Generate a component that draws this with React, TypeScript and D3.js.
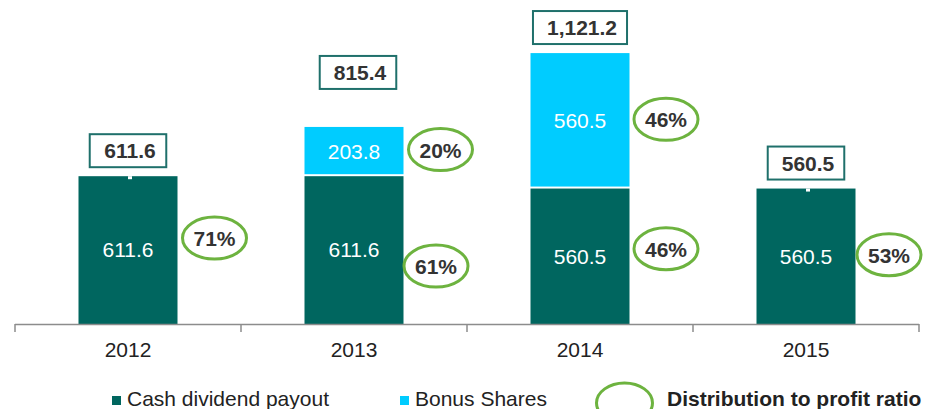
import React from "react";
import * as d3 from "d3";

const years = ["2012", "2013", "2014", "2015"];
const cashDividend = [611.6, 611.6, 560.5, 560.5];
const bonusShares = [0, 203.8, 560.5, 0];
const totals = [611.6, 815.4, 1121.2, 560.5];
const cashRatio = ["71%", "61%", "46%", "53%"];
const bonusRatio = ["", "20%", "46%", ""];

// layout tweaks (pixel offsets for manually placed annotations)
const cashRatioOffset = [[37, -12], [32.5, 16], [36.5, -7.5], [33.5, -1.5]];
const bonusRatioOffset = [[0, 0], [37, -2], [36.5, -1.5], [0, 0]];
const totalBoxGap = [9, 38, 9, 9];
const totalBoxDx = [0, 4, 0, 0];

const W = 928;
const H = 409;
const CASH = "#00665f";
const BONUS = "#00ccff";
const GREEN = "#6db33f";
const TEXT = "#333333";
const FONT = "'Liberation Sans', Arial, Helvetica, sans-serif";

function textWidth(s: string, bold: boolean, size: number) {
  const w: Record<string, number> = { ",": 0.278, ".": 0.278, "%": 0.889 };
  let t = 0;
  for (const c of s) t += w[c] ?? 0.556;
  return t * size;
}

export default function App() {
  const x = d3.scaleBand<string>().domain(years).range([15, 919]).padding(0);
  const y = d3.scaleLinear().domain([0, 1200]).range([324, 34]);
  const barW = 99;
  const ellipseRx = 32;
  const ellipseRy = 21;

  return (
    <div style={{ position: "absolute", left: 0, top: 0 }}>
      <svg width={W} height={H} style={{ display: "block", fontFamily: FONT }}>
        <rect width={W} height={H} fill="#fff" />
        {years.map((yr, i) => {
          const cx = (x(yr) as number) + x.bandwidth() / 2;
          const x0 = cx - barW / 2;
          const cashTop = y(cashDividend[i]);
          const bonusTop = y(cashDividend[i] + bonusShares[i]);
          const total = totals[i];
          const totalTop = y(total);
          const label = d3.format(",.1f")(total);
          const bw = textWidth(label, true, 21) + 24;
          const bh = 33;
          const by = totalTop - totalBoxGap[i] - bh;
          const bcx = cx + totalBoxDx[i];
          const cashMid = (y(0) + cashTop) / 2;
          const bonusMid = (cashTop + bonusTop) / 2;
          return (
            <g key={yr}>
              <rect x={x0} y={cashTop} width={barW} height={y(0) - cashTop} fill={CASH} />
              {bonusShares[i] > 0 && (
                <rect x={x0} y={bonusTop} width={barW} height={cashTop - bonusTop - 2} fill={BONUS} />
              )}
              {bonusShares[i] === 0 && (
                <rect x={cx} y={cashTop} width={4} height={3} fill="#fff" />
              )}
              <text x={cx} y={cashMid} dy="0.35em" textAnchor="middle" fill="#fff" fontSize={21}>
                {d3.format(",.1f")(cashDividend[i])}
              </text>
              {bonusShares[i] > 0 && (
                <text x={cx} y={bonusMid} dy="0.35em" textAnchor="middle" fill="#fff" fontSize={21}>
                  {d3.format(",.1f")(bonusShares[i])}
                </text>
              )}
              <rect x={bcx - bw / 2} y={by} width={bw} height={bh} fill="#fff" stroke="#1f706b" strokeWidth={2} />
              <text x={bcx + 2} y={by + bh / 2} dy="0.36em" textAnchor="middle" fill={TEXT} fontSize={21} fontWeight="bold">
                {label}
              </text>
              {/* ratio annotations */}
              <g>
                <ellipse cx={x0 + barW + cashRatioOffset[i][0]} cy={cashMid + cashRatioOffset[i][1]} rx={ellipseRx} ry={ellipseRy} fill="none" stroke={GREEN} strokeWidth={3} />
                <text x={x0 + barW + cashRatioOffset[i][0]} y={cashMid + cashRatioOffset[i][1]} dy="0.38em" textAnchor="middle" fill={TEXT} fontSize={21} fontWeight="bold">
                  {cashRatio[i]}
                </text>
              </g>
              {bonusRatio[i] && (
                <g>
                  <ellipse cx={x0 + barW + bonusRatioOffset[i][0]} cy={bonusMid + bonusRatioOffset[i][1]} rx={ellipseRx} ry={ellipseRy} fill="none" stroke={GREEN} strokeWidth={3} />
                  <text x={x0 + barW + bonusRatioOffset[i][0]} y={bonusMid + bonusRatioOffset[i][1]} dy="0.38em" textAnchor="middle" fill={TEXT} fontSize={21} fontWeight="bold">
                    {bonusRatio[i]}
                  </text>
                </g>
              )}
            </g>
          );
        })}
        {/* axis */}
        <line x1={15} x2={919} y1={324.5} y2={324.5} stroke="#8c8c8c" strokeWidth={1.5} />
        {[...years.map((yr) => x(yr) as number), 919].map((t, i) => (
          <line key={i} x1={t} x2={t} y1={324} y2={332} stroke="#8c8c8c" strokeWidth={1.5} />
        ))}
        {years.map((yr) => (
          <text key={yr} x={(x(yr) as number) + x.bandwidth() / 2} y={357} textAnchor="middle" fill="#222" fontSize={21}>
            {yr}
          </text>
        ))}
        {/* legend */}
        <rect x={112} y={396} width={9} height={9} fill={CASH} />
        <text x={127} y={406} fill="#222" fontSize={21}>Cash dividend payout</text>
        <rect x={400} y={396} width={9} height={9} fill={BONUS} />
        <text x={415} y={406} fill="#222" fontSize={21}>Bonus Shares</text>
        <ellipse cx={624.5} cy={403} rx={28} ry={20} fill="none" stroke={GREEN} strokeWidth={3} />
        <text x={667} y={406} fill="#222" fontSize={21} fontWeight="bold">Distribution to profit ratio</text>
      </svg>
    </div>
  );
}
